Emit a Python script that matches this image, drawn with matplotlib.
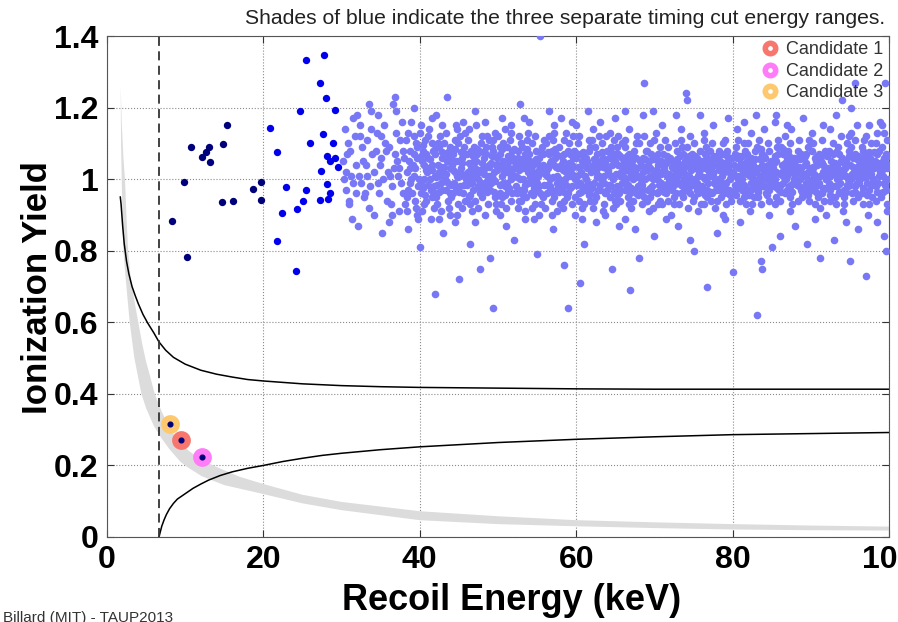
import numpy as np
import matplotlib.pyplot as plt
from matplotlib.lines import Line2D

plt.rcParams['font.family'] = ['Liberation Sans', 'DejaVu Sans']

# ---- values ----
threshold = 6.65

# lowest timing-cut energy range (navy)
navy_x = [8.3, 10.2, 9.9, 10.7, 12.1, 12.7, 13.0, 13.2, 14.8, 15.4, 14.7, 16.1, 18.7, 19.7, 19.7]
navy_y = [0.883, 0.783, 0.991, 1.090, 1.063, 1.077, 1.091, 1.049, 1.097, 1.151,
          0.937, 0.939, 0.972, 0.993, 0.942]

# middle range (blue)
blue_x = [20.9, 21.8, 22.9, 22.4, 21.8, 24.2, 24.3, 25.0, 25.5, 26.0, 24.7, 25.5, 27.2, 27.7,
          28.0, 29.1, 27.6, 28.9, 28.1, 28.5, 29.2, 29.6, 27.4, 28.1, 28.5, 28.3, 27.3]
blue_y = [1.143, 1.075, 0.977, 0.906, 0.827, 0.744, 0.916, 0.939, 0.970, 1.101, 1.191, 1.332,
          1.270, 1.346, 1.226, 1.193, 1.127, 1.101, 1.065, 1.052, 1.060, 1.033, 1.023, 0.986,
          0.961, 0.945, 0.942]

# highest range (light blue), "x,y" pairs
light_pts = """
30.2,1.05 30.5,0.97 30.8,1.10 30.4,1.14 30.9,0.93 30.6,1.02 30.3,1.00 30.7,1.07
31.1,1.08 31.4,0.99 31.7,1.12 31.3,0.89 31.8,1.04 31.5,1.17 31.2,1.01 31.9,0.96
32.2,1.01 32.6,1.09 32.9,0.95 32.4,1.15 32.7,1.05 32.1,0.87 32.5,0.99 32.3,1.12
33.3,1.11 33.6,0.98 33.1,1.04 33.8,1.19 33.5,0.92 33.9,1.07 33.2,1.01 33.7,1.14
34.2,1.02 34.5,1.13 34.8,0.96 34.4,1.08 34.1,0.90 34.7,1.18 34.9,1.04 34.6,0.99
35.3,1.00 35.6,1.10 35.1,1.06 35.8,0.94 35.4,1.15 35.9,1.02 35.2,0.85 35.7,1.08
36.1,1.09 36.4,0.98 36.7,1.03 36.9,1.13 36.3,0.93 36.6,1.21 36.8,1.07 36.2,1.01
37.2,1.01 37.5,1.11 37.8,0.96 37.1,1.05 37.4,0.91 37.7,1.16 37.9,1.08 37.6,0.99 37.3,1.03
38.1,0.93 38.3,1.02 38.5,0.97 38.7,1.08 38.9,1.00 38.2,1.11 38.4,0.95 38.6,1.05 38.8,0.99 38.0,1.06 38.5,1.13 38.3,0.91 38.8,1.03 38.6,0.96
39.2,1.01 39.4,0.94 39.6,1.09 39.8,0.98 39.1,1.04 39.3,1.12 39.5,0.92 39.7,1.06 39.9,1.00 39.0,0.96 39.5,1.10 39.2,1.07 39.7,0.90 39.4,1.03
40.1,0.99 40.3,1.05 40.5,0.93 40.7,1.11 40.9,1.02 40.2,0.96 40.4,1.08 40.6,1.00 40.8,0.94 40.0,1.13 40.6,1.04 40.3,0.91 40.8,1.07 40.1,1.15
41.2,1.03 41.4,0.97 41.6,1.10 41.8,0.92 41.1,1.06 41.3,1.00 41.5,0.95 41.7,1.08 41.9,1.01 41.0,1.12 41.4,0.89 41.6,1.04 41.8,0.98 41.2,1.14
42.1,0.95 42.3,1.04 42.5,1.09 42.7,0.99 42.9,1.06 42.2,0.93 42.4,1.01 42.6,1.12 42.8,0.97 42.0,1.07 42.5,1.02 42.7,0.91 42.3,1.10 42.9,1.15
43.2,1.00 43.4,1.07 43.6,0.94 43.8,1.03 43.1,1.10 43.3,0.97 43.5,1.05 43.7,0.92 43.9,1.09 43.0,1.02 43.6,0.99 43.4,1.13 43.8,0.96 43.2,1.06
44.1,1.04 44.3,0.96 44.5,1.11 44.7,1.01 44.9,0.93 44.2,1.08 44.4,0.99 44.6,1.05 44.8,1.14 44.0,0.95 44.5,1.02 44.7,0.90 44.3,1.07 44.9,1.10
45.2,0.98 45.4,1.06 45.6,1.01 45.8,0.94 45.1,1.12 45.3,1.03 45.5,0.96 45.7,1.09 45.9,1.00 45.0,1.05 45.4,0.92 45.6,1.07 45.8,1.13 45.2,1.02
46.1,1.02 46.3,0.95 46.5,1.08 46.7,0.99 46.9,1.05 46.2,1.11 46.4,0.93 46.6,1.03 46.8,0.97 46.0,1.07 46.5,1.00 46.3,1.14 46.7,0.91 46.9,1.09
47.2,1.05 47.4,0.98 47.6,1.02 47.8,1.10 47.1,0.94 47.3,1.07 47.5,1.00 47.7,0.96 47.9,1.12 47.0,1.03 47.4,0.92 47.6,1.08 47.8,0.99 47.2,1.15
48.1,0.97 48.3,1.03 48.5,1.09 48.7,0.93 48.9,1.01 48.2,1.06 48.4,0.99 48.6,1.12 48.8,1.04 48.0,0.95 48.5,1.07 48.3,0.90 48.7,1.00 48.9,1.11
49.2,1.01 49.4,1.08 49.6,0.95 49.8,1.04 49.1,0.99 49.3,1.11 49.5,1.02 49.7,0.93 49.9,1.06 49.0,0.97 49.6,1.13 49.4,1.00 49.8,0.91 49.2,1.09
50.1,1.04 50.3,0.96 50.5,1.01 50.7,1.10 50.9,0.98 50.2,1.07 50.4,0.93 50.6,1.05 50.8,1.02 50.0,1.12 50.5,0.95 50.3,1.09 50.7,0.99 50.9,1.14
51.2,0.99 51.4,1.05 51.6,0.94 51.8,1.08 51.1,1.02 51.3,0.97 51.5,1.11 51.7,1.00 51.9,1.06 51.0,0.92 51.4,1.03 51.6,1.13 51.8,0.96 51.2,1.09
52.1,1.03 52.3,0.98 52.5,1.06 52.7,0.94 52.9,1.10 52.2,1.01 52.4,0.96 52.6,1.08 52.8,1.00 52.0,1.05 52.5,0.92 52.7,1.12 52.3,1.04 52.9,0.97
53.2,1.00 53.4,1.07 53.6,0.95 53.8,1.02 53.1,1.09 53.3,0.97 53.5,1.04 53.7,1.11 53.9,0.99 53.0,0.94 53.6,1.06 53.4,0.91 53.8,1.13 53.2,1.03
54.1,1.05 54.3,0.99 54.5,1.02 54.7,0.93 54.9,1.08 54.2,0.96 54.4,1.10 54.6,1.01 54.8,0.97 54.0,1.07 54.5,1.04 54.3,0.92 54.7,1.12 54.9,1.00
55.2,0.98 55.4,1.03 55.6,1.09 55.8,0.95 55.1,1.01 55.3,1.06 55.5,0.93 55.7,1.04 55.9,1.11 55.0,0.99 55.4,0.96 55.6,1.02 55.8,1.07 55.2,0.90
56.1,1.02 56.3,0.96 56.5,1.07 56.7,1.00 56.9,0.94 56.2,1.10 56.4,1.03 56.6,0.98 56.8,1.05 56.0,0.92 56.5,1.12 56.3,1.01 56.7,0.97 56.9,1.08
57.2,1.04 57.4,0.97 57.6,1.01 57.8,1.09 57.1,0.95 57.3,1.06 57.5,0.99 57.7,1.03 57.9,0.93 57.0,1.11 57.4,1.07 57.6,0.91 57.8,1.00 57.2,1.13
58.1,0.99 58.3,1.05 58.5,0.94 58.7,1.02 58.9,1.08 58.2,0.97 58.4,1.11 58.6,1.00 58.8,0.95 58.0,1.04 58.5,1.07 58.3,0.92 58.7,1.13 58.9,1.01
59.2,1.03 59.4,0.98 59.6,1.06 59.8,0.95 59.1,1.10 59.3,1.01 59.5,0.93 59.7,1.08 59.9,1.00 59.0,0.96 59.4,1.04 59.6,1.12 59.8,0.90 59.2,1.07
60.1,1.01 60.3,0.94 60.5,1.07 60.7,0.98 60.9,1.04 60.2,1.10 60.4,0.96 60.6,1.02 60.8,0.92 60.0,1.06 60.5,0.99 60.3,1.12 60.7,1.05 60.9,0.97
61.2,0.97 61.4,1.03 61.6,1.08 61.8,0.94 61.1,1.01 61.3,1.06 61.5,0.99 61.7,1.11 61.9,1.02 61.0,0.93 61.4,1.05 61.6,0.96 61.8,1.09 61.2,1.00
62.1,1.04 62.3,0.99 62.5,0.95 62.7,1.07 62.9,1.01 62.2,0.92 62.4,1.09 62.6,1.03 62.8,0.97 62.0,1.11 62.5,1.02 62.3,0.94 62.7,1.05 62.9,1.12
63.2,1.00 63.4,1.06 63.6,0.93 63.8,1.03 63.1,0.97 63.3,1.10 63.5,1.01 63.7,0.96 63.9,1.08 63.0,1.04 63.6,0.99 63.4,0.91 63.8,1.12 63.2,1.05
64.1,1.02 64.3,0.95 64.5,1.09 64.7,1.00 64.9,0.94 64.2,1.06 64.4,0.98 64.6,1.04 64.8,1.11 64.0,0.97 64.5,1.01 64.3,1.13 64.7,0.92 64.9,1.07
65.2,0.98 65.4,1.04 65.6,1.01 65.8,1.10 65.1,0.93 65.3,1.07 65.5,0.96 65.7,1.02 65.9,0.99 65.0,1.05 65.4,1.12 65.6,0.94 65.8,1.06 65.2,1.09
66.1,1.03 66.3,0.97 66.5,1.06 66.7,0.93 66.9,1.02 66.2,1.09 66.4,1.00 66.6,0.95 66.8,1.07 66.0,1.01 66.5,0.98 66.3,1.11 66.7,1.04 66.9,0.96
67.2,1.00 67.4,1.08 67.6,0.96 67.8,1.03 67.1,1.05 67.3,0.94 67.5,1.02 67.7,1.10 67.9,0.98 67.0,0.92 67.6,1.06 67.4,1.01 67.8,1.12 67.2,0.97
68.1,1.05 68.3,0.99 68.5,1.02 68.7,0.95 68.9,1.08 68.2,1.01 68.4,0.93 68.6,1.06 68.8,1.00 68.0,1.10 68.5,0.97 68.3,1.04 68.7,1.12 68.9,0.94
69.2,0.97 69.4,1.03 69.6,1.07 69.8,1.00 69.1,0.94 69.3,1.05 69.5,1.10 69.7,0.98 69.9,1.02 69.0,1.08 69.4,0.95 69.6,1.01 69.8,0.92 69.2,1.04
70.1,1.01 70.3,0.96 70.5,1.04 70.7,1.09 70.9,0.99 70.2,1.06 70.4,0.93 70.6,1.02 70.8,0.97 70.0,1.11 70.5,1.07 70.3,1.00 70.7,0.94 70.9,1.05
71.2,1.04 71.4,0.98 71.6,1.01 71.8,0.94 71.1,1.07 71.3,1.02 71.5,0.96 71.7,1.09 71.9,1.00 71.0,0.93 71.4,1.11 71.6,1.05 71.8,0.99 71.2,1.03
72.1,0.99 72.3,1.05 72.5,0.95 72.7,1.02 72.9,1.08 72.2,0.97 72.4,1.03 72.6,1.10 72.8,1.00 72.0,1.06 72.5,0.93 72.3,1.01 72.7,0.96 72.9,1.04
73.2,1.02 73.4,0.96 73.6,1.07 73.8,1.00 73.1,0.93 73.3,1.04 73.5,1.09 73.7,0.98 73.9,1.05 73.0,1.01 73.6,0.95 73.4,1.11 73.8,1.03 73.2,0.99
74.1,1.00 74.3,1.06 74.5,0.98 74.7,1.03 74.9,0.94 74.2,1.09 74.4,1.01 74.6,0.96 74.8,1.07 74.0,1.04 74.5,1.12 74.3,0.92 74.7,1.00 74.9,1.05
75.2,1.03 75.4,0.97 75.6,1.01 75.8,1.08 75.1,0.95 75.3,1.05 75.5,0.99 75.7,1.02 75.9,0.93 75.0,1.10 75.4,1.06 75.6,0.96 75.8,1.04 75.2,1.00
76.1,0.98 76.3,1.04 76.5,1.07 76.7,0.95 76.9,1.01 76.2,1.03 76.4,0.93 76.6,1.09 76.8,0.99 76.0,1.05 76.5,1.00 76.3,1.11 76.7,0.97 76.9,1.06
77.2,1.01 77.4,0.96 77.6,1.04 77.8,1.00 77.1,1.08 77.3,0.94 77.5,1.02 77.7,1.06 77.9,0.97 77.0,1.03 77.6,0.99 77.4,1.10 77.8,0.92 77.2,1.05
78.1,1.04 78.3,1.00 78.5,0.95 78.7,1.07 78.9,1.02 78.2,0.97 78.4,1.05 78.6,0.99 78.8,1.10 78.0,0.94 78.5,1.03 78.3,1.08 78.7,1.01 78.9,0.96
79.2,0.99 79.4,1.05 79.6,1.02 79.8,0.94 79.1,1.03 79.3,1.08 79.5,0.97 79.7,1.00 79.9,1.06 79.0,1.11 79.4,0.96 79.6,1.04 79.8,1.01 79.2,0.93
80.1,1.02 80.3,0.97 80.5,1.06 80.7,1.00 80.9,0.94 80.2,1.04 80.4,1.09 80.6,0.98 80.8,1.03 80.0,0.96 80.5,1.01 80.3,1.07 80.7,1.11 80.9,0.99
81.2,1.00 81.4,1.04 81.6,0.96 81.8,1.07 81.1,0.98 81.3,1.02 81.5,1.10 81.7,0.93 81.9,1.05 81.0,1.01 81.4,0.95 81.6,1.08 81.8,1.03 81.2,0.97
82.1,1.05 82.3,0.99 82.5,1.02 82.7,0.95 82.9,1.08 82.2,1.01 82.4,0.97 82.6,1.04 82.8,1.00 82.0,1.10 82.5,0.93 82.3,1.06 82.7,0.98 82.9,1.03
83.2,0.97 83.4,1.03 83.6,1.06 83.8,1.00 83.1,1.09 83.3,0.95 83.5,1.01 83.7,1.04 83.9,0.98 83.0,1.02 83.6,0.93 83.4,1.11 83.8,1.07 83.2,0.99
84.1,1.01 84.3,0.96 84.5,1.04 84.7,1.08 84.9,0.99 84.2,1.06 84.4,1.02 84.6,0.94 84.8,1.03 84.0,0.98 84.5,1.10 84.3,1.00 84.7,0.97 84.9,1.05
85.2,1.03 85.4,1.00 85.6,0.95 85.8,1.07 85.1,1.01 85.3,0.98 85.5,1.05 85.7,1.09 85.9,0.97 85.0,1.04 85.4,0.93 85.6,1.02 85.8,1.11 85.2,0.99
86.1,0.98 86.3,1.04 86.5,1.01 86.7,0.96 86.9,1.06 86.2,1.09 86.4,0.99 86.6,1.03 86.8,1.00 86.0,0.94 86.5,1.07 86.3,1.02 86.7,1.12 86.9,0.97
87.2,1.02 87.4,0.97 87.6,1.05 87.8,1.00 87.1,1.08 87.3,0.95 87.5,1.03 87.7,0.99 87.9,1.06 87.0,1.01 87.6,0.93 87.4,1.10 87.8,1.04 87.2,0.98
88.1,1.00 88.3,1.06 88.5,0.98 88.7,1.03 88.9,0.95 88.2,1.02 88.4,1.08 88.6,1.00 88.8,0.97 88.0,1.05 88.5,1.11 88.3,0.94 88.7,1.07 88.9,1.01
89.2,1.04 89.4,0.99 89.6,1.02 89.8,0.94 89.1,1.06 89.3,1.01 89.5,0.97 89.7,1.09 89.9,1.03 89.0,0.96 89.4,1.07 89.6,1.00 89.8,1.11 89.2,0.98
90.1,0.97 90.3,1.03 90.5,1.06 90.7,1.00 90.9,0.95 90.2,1.08 90.4,1.01 90.6,0.98 90.8,1.04 90.0,1.02 90.5,0.93 90.3,1.10 90.7,1.05 90.9,0.99
91.2,1.01 91.4,0.96 91.6,1.04 91.8,1.08 91.1,0.99 91.3,1.05 91.5,1.02 91.7,0.94 91.9,1.00 91.0,1.07 91.4,1.11 91.6,0.97 91.8,1.03 91.2,0.92
92.1,1.03 92.3,0.99 92.5,1.01 92.7,0.95 92.9,1.07 92.2,1.02 92.4,0.97 92.6,1.05 92.8,1.10 92.0,1.00 92.5,0.94 92.3,1.08 92.7,1.03 92.9,0.98
93.2,0.98 93.4,1.04 93.6,1.07 93.8,1.01 93.1,0.95 93.3,1.02 93.5,1.09 93.7,0.99 93.9,1.05 93.0,1.03 93.6,0.96 93.4,1.00 93.8,1.12 93.2,0.93
94.1,1.02 94.3,0.97 94.5,1.05 94.7,1.00 94.9,1.08 94.2,0.95 94.4,1.03 94.6,1.10 94.8,0.98 94.0,1.06 94.5,1.01 94.3,0.93 94.7,1.04 94.9,1.12
95.2,1.00 95.4,1.06 95.6,0.98 95.8,1.03 95.1,1.09 95.3,0.96 95.5,1.02 95.7,1.07 95.9,0.99 95.0,1.04 95.6,1.11 95.4,0.94 95.8,1.01 95.2,1.13
96.1,1.04 96.3,1.00 96.5,0.96 96.7,1.08 96.9,1.02 96.2,0.99 96.4,1.06 96.6,1.03 96.8,1.11 96.0,0.95 96.5,1.09 96.3,1.01 96.7,0.93 96.9,1.05
97.2,0.99 97.4,1.05 97.6,1.02 97.8,0.95 97.1,1.07 97.3,1.03 97.5,0.97 97.7,1.10 97.9,1.00 97.0,1.12 97.4,0.93 97.6,1.06 97.8,1.04 97.2,1.01
98.1,1.03 98.3,0.98 98.5,1.07 98.7,1.01 98.9,0.96 98.2,1.05 98.4,1.10 98.6,0.99 98.8,1.04 98.0,1.00 98.5,1.13 98.3,0.94 98.7,1.08 98.9,1.02
99.2,1.01 99.4,1.06 99.6,0.97 99.8,1.03 99.1,1.09 99.3,0.99 99.5,1.04 99.7,1.11 99.9,1.00 99.0,0.95 99.6,1.07 99.4,1.13 99.8,0.93 99.2,1.05
40.45,0.975 40.85,1.025 40.15,1.065 40.65,0.955 40.35,1.095 41.05,0.985 41.55,1.025 41.35,1.055 41.75,0.965 41.95,1.085
42.25,0.985 42.65,1.035 42.05,1.005 42.85,1.075 42.45,0.965 43.15,1.035 43.55,1.075 43.95,0.985 43.35,1.015 43.75,1.055
44.25,1.025 44.65,0.975 44.05,1.055 44.85,1.005 44.45,1.085 45.05,0.965 45.45,1.045 45.85,1.015 45.25,1.075 45.65,0.985
46.25,1.045 46.65,1.015 46.05,0.985 46.85,1.065 46.45,0.955 47.15,1.015 47.55,0.975 47.95,1.045 47.35,1.085 47.75,1.025
48.25,1.015 48.65,0.965 48.05,1.075 48.85,1.035 48.45,0.985 49.05,1.045 49.45,0.965 49.85,1.025 49.25,1.065 49.65,0.995
50.25,0.985 50.65,1.035 50.05,1.065 50.85,0.955 50.45,1.085 51.05,1.035 51.45,0.975 51.85,1.015 51.25,1.065 51.65,1.005
52.25,0.965 52.65,1.025 52.05,1.085 52.85,1.045 52.45,1.005 53.05,1.055 53.45,0.985 53.85,1.035 53.25,0.955 53.65,1.085
54.25,1.035 54.65,0.975 54.05,1.005 54.85,1.055 54.45,0.955 55.05,1.045 55.45,1.075 55.85,0.985 55.25,1.025 55.65,0.955
56.25,0.985 56.65,1.045 56.05,1.015 56.85,0.965 56.45,1.075 57.05,1.005 57.45,1.035 57.85,0.965 57.25,1.085 57.65,0.985
58.25,1.025 58.65,0.985 58.05,1.065 58.85,1.035 58.45,0.965 59.05,1.045 59.45,1.015 59.85,1.075 59.25,0.975 59.65,1.035
60.25,1.035 60.65,0.965 60.05,0.985 60.85,1.075 60.45,1.015 61.05,1.065 61.45,0.975 61.85,1.025 61.25,1.045 61.65,0.955
62.25,1.055 62.65,1.005 62.05,0.975 62.85,1.035 62.45,0.955 63.05,0.985 63.45,1.035 63.85,0.965 63.25,1.075 63.65,1.045
64.25,0.985 64.65,1.055 64.05,1.025 64.85,0.965 64.45,1.075 65.05,1.015 65.45,0.975 65.85,1.035 65.25,0.955 65.65,1.065
66.25,1.025 66.65,0.985 66.05,1.045 66.85,1.005 66.45,1.065 67.05,0.975 67.45,1.035 67.85,0.955 67.25,1.065 67.65,1.005
68.25,0.965 68.65,1.035 68.05,1.005 68.85,1.055 68.45,0.985 69.05,1.025 69.45,0.975 69.85,1.055 69.25,1.005 69.65,0.965
70.25,1.025 70.65,0.985 70.05,1.055 70.85,1.015 70.45,0.965 71.05,0.985 71.45,1.045 71.85,1.015 71.25,0.965 71.65,1.065
72.25,1.035 72.65,1.005 72.05,0.975 72.85,1.055 72.45,0.985 73.05,1.045 73.45,0.985 73.85,1.015 73.25,1.065 73.65,0.965
74.25,0.975 74.65,1.025 74.05,0.995 74.85,1.045 74.45,1.065 75.05,0.985 75.45,1.035 75.85,0.965 75.25,1.065 75.65,1.015
76.25,1.005 76.65,1.055 76.05,0.975 76.85,1.025 76.45,0.955 77.05,1.045 77.45,1.015 77.85,0.985 77.25,0.965 77.65,1.065
78.25,1.025 78.65,0.975 78.05,1.065 78.85,1.045 78.45,0.985 79.05,0.975 79.45,1.035 79.85,1.005 79.25,1.065 79.65,0.955
80.25,0.985 80.65,1.035 80.05,1.015 80.85,1.065 80.45,0.955 81.05,1.045 81.45,0.985 81.85,1.015 81.25,1.065 81.65,0.975
82.25,1.035 82.65,0.985 82.05,0.955 82.85,1.055 82.45,1.015 83.05,0.985 83.45,1.055 83.85,1.025 83.25,0.965 83.65,1.085
84.25,1.035 84.65,0.985 84.05,1.065 84.85,1.015 84.45,0.955 85.05,1.025 85.45,1.065 85.85,0.985 85.25,1.045 85.65,0.975
86.25,0.965 86.65,1.045 86.05,1.015 86.85,1.025 86.45,1.085 87.05,1.045 87.45,0.985 87.85,1.015 87.25,1.065 87.65,0.965
88.25,0.985 88.65,1.055 88.05,1.025 88.85,0.965 88.45,1.035 89.05,1.015 89.45,1.045 89.85,0.985 89.25,1.065 89.65,0.955
90.25,1.035 90.65,0.965 90.05,0.995 90.85,1.065 90.45,1.015 91.05,0.985 91.45,1.045 91.85,1.015 91.25,1.065 91.65,0.975
92.25,0.975 92.65,1.035 92.05,1.065 92.85,1.015 92.45,0.955 93.05,1.045 93.45,0.985 93.85,1.025 93.25,1.075 93.65,0.965
94.25,1.045 94.65,0.985 94.05,1.015 94.85,1.065 94.45,0.965 95.05,0.985 95.45,1.035 95.85,1.055 95.25,1.015 95.65,0.965
96.25,1.025 96.65,0.975 96.05,1.065 96.85,1.005 96.45,1.045 97.05,1.035 97.45,1.075 97.85,0.985 97.25,0.955 97.65,1.015
98.25,0.985 98.65,1.045 98.05,1.075 98.85,1.025 98.45,0.965 99.05,1.025 99.45,0.985 99.85,1.065 99.25,0.965 99.65,1.045
55.4,1.40 36.8,1.23 43.5,1.23 52.8,1.21 68.7,1.27 74.0,1.24 74.2,1.22 94.0,1.22 95.1,1.20
95.7,1.27 99.5,1.27 93.2,1.18 65.0,1.17 66.3,1.19 68.5,1.18 69.8,1.19 72.8,1.18 75.8,1.18
79.4,1.17 83.0,1.18 85.6,1.18 85.4,1.16 39.2,1.20 47.0,1.19 58.0,1.17 61.5,1.19 89.0,1.17
97.5,1.15 45.5,1.16 50.5,1.17 56.5,1.19 63.0,1.16 91.5,1.15 77.5,1.15 81.5,1.16 87.5,1.14
33.5,1.21 41.5,1.17 54.0,1.16 60.0,1.15 71.0,1.15 84.0,1.14 98.8,1.16 92.5,1.14
38.9,1.16 42.1,1.18 44.6,1.15 48.4,1.16 51.7,1.15 53.3,1.17 57.1,1.15 59.5,1.16 62.2,1.14
66.8,1.14 70.2,1.13 73.4,1.14 76.4,1.13 80.6,1.14 82.4,1.13 86.9,1.15 90.1,1.13 95.9,1.15
99.1,1.15 39.8,0.89 43.9,0.90 47.1,0.88 50.2,0.90 54.6,0.89 56.9,0.90 60.8,0.89 63.7,0.90
66.2,0.89 69.3,0.91 72.1,0.90 75.6,0.91 78.8,0.90 82.2,0.91 84.7,0.90 87.3,0.91 91.9,0.90
94.1,0.91 97.3,0.90 99.7,0.91 31.0,0.94 33.0,0.96 35.0,1.12 36.5,0.90 37.0,1.19 32.0,1.18
41.9,0.68 49.4,0.64 59.0,0.64 66.9,0.69 76.7,0.70 83.1,0.62 91.2,0.78 99.6,0.80 83.6,0.77
83.8,0.75 64.6,0.75 49.0,0.78 47.7,0.75 40.0,0.81 46.4,0.82 43.0,0.85 52.0,0.83 57.0,0.86
61.0,0.82 70.0,0.84 73.0,0.87 78.0,0.85 86.0,0.84 88.0,0.87 93.0,0.83 96.0,0.86 44.5,0.88
53.5,0.89 62.5,0.88 67.5,0.86 71.5,0.89 81.0,0.88 90.5,0.89 98.5,0.88 38.5,0.86 55.0,0.79
58.5,0.76 68.0,0.78 75.0,0.80 80.0,0.74 85.0,0.81 95.0,0.77 60.5,0.71 45.0,0.72 97.0,0.73
99.3,0.84 89.5,0.82 79.0,0.89 65.5,0.87 51.0,0.87 42.5,0.89 36.0,0.88 74.5,0.83 94.5,0.88
"""
light_arr = np.array([p.split(',') for p in light_pts.split()], dtype=float)
light_x = light_arr[:, 0]
light_y = light_arr[:, 1]

# signal candidates
cand_x = [9.4, 12.1, 8.1]
cand_y = [0.271, 0.224, 0.316]
cand_labels = ['Candidate 1', 'Candidate 2', 'Candidate 3']
cand_colors = ['#f7766e', '#ff7cf8', '#fec86e']

# upper black curve
upper_x = [1.7, 1.8, 2.0, 2.2, 2.5, 2.8, 3.2, 3.6, 4.0, 4.6, 5.2, 6.0, 6.65, 7.5, 8.5, 10, 12,
           14, 16, 18, 20, 25, 30, 35, 40, 50, 60, 70, 80, 90, 100]
upper_y = [0.95, 0.93, 0.87, 0.82, 0.77, 0.735, 0.70, 0.675, 0.652, 0.622, 0.598, 0.570, 0.545,
           0.522, 0.502, 0.483, 0.466, 0.455, 0.447, 0.440, 0.436, 0.428, 0.423, 0.420, 0.418,
           0.416, 0.414, 0.413, 0.413, 0.413, 0.413]

# lower black curve
lower_x = [6.65, 6.8, 7.0, 7.3, 7.6, 8.0, 8.5, 9.0, 10, 11, 12, 13, 14.5, 16, 18, 20, 22.5, 25,
           27.5, 30, 35, 40, 45, 50, 60, 70, 80, 90, 100]
lower_y = [0.0, 0.013, 0.030, 0.048, 0.063, 0.079, 0.094, 0.106, 0.121, 0.136, 0.148, 0.159,
           0.172, 0.182, 0.192, 0.200, 0.211, 0.220, 0.228, 0.234, 0.244, 0.252, 0.258, 0.264,
           0.273, 0.280, 0.286, 0.289, 0.292]

# grey nuclear-recoil band: upper and lower edges
band_up_x = [1.75, 1.9, 2.1, 2.3, 2.5, 2.7, 3.0, 3.5, 4.0, 4.5, 5.0, 5.5, 6.1, 7.0, 8.1, 9.4,
             10.5, 12.1, 14.3, 17, 20, 25, 30, 40, 50, 60, 70, 80, 90, 100]
band_up_y = [1.26, 1.15, 1.06, 1.00, 0.89, 0.80, 0.73, 0.66, 0.60, 0.54, 0.49, 0.45, 0.40, 0.35,
             0.30, 0.262, 0.240, 0.215, 0.193, 0.168, 0.148, 0.118, 0.098, 0.072, 0.058, 0.047,
             0.041, 0.036, 0.032, 0.029]
band_lo_x = [1.75, 1.8, 1.88, 2.0, 2.1, 2.4, 2.9, 3.5, 4.4, 5.0, 6.0, 7.0, 8.0, 9.4, 10.3, 12.1,
             15, 20, 25, 30, 40, 50, 60, 70, 80, 90, 100]
band_lo_y = [1.26, 1.10, 1.00, 0.88, 0.80, 0.72, 0.60, 0.50, 0.40, 0.36, 0.31, 0.275, 0.245,
             0.21, 0.195, 0.17, 0.145, 0.12, 0.094, 0.075, 0.047, 0.036, 0.030, 0.025, 0.021,
             0.019, 0.018]

xticks = [0, 20, 40, 60, 80, 100]
yticks = [0, 0.2, 0.4, 0.6, 0.8, 1.0, 1.2, 1.4]
yticklabels = ['0', '0.2', '0.4', '0.6', '0.8', '1', '1.2', '1.4']

# ---- figure ----
fig = plt.figure(figsize=(8.98, 6.22), dpi=100)
ax = fig.add_axes([107 / 898, 85 / 622, 782 / 898, 501 / 622])

ax.fill(band_up_x + band_lo_x[::-1], band_up_y + band_lo_y[::-1],
        color='#dcdcdc', lw=0, zorder=1)
ax.plot(upper_x, upper_y, color='black', lw=1.1, zorder=2)
ax.plot(lower_x, lower_y, color='black', lw=1.1, zorder=2)
ax.axvline(threshold, color='#333333', lw=1.3, ls=(0, (5, 3)), zorder=2)

ax.scatter(light_x, light_y, s=30, color='#7878f6', linewidths=0, zorder=3)
ax.scatter(blue_x, blue_y, s=28, color='#0000ee', linewidths=0, zorder=3)
ax.scatter(navy_x, navy_y, s=28, color='#00007a', linewidths=0, zorder=3)

# candidates: coloured ring with the event dot in the middle
for cx, cy, col in zip(cand_x, cand_y, cand_colors):
    ax.plot(cx, cy, 'o', ms=8.5, mew=5, mfc='white', mec=col, zorder=4)
    ax.plot(cx, cy, 'o', ms=3.4, color='#00007a', zorder=5)

handles = [Line2D([], [], ls='', marker='o', ms=7.5, mew=4, mfc='white', mec=c)
           for c in cand_colors]
ax.legend(handles, cand_labels, loc='upper right', frameon=False, fontsize=13,
          handlelength=0.8, handletextpad=0.5, labelspacing=0.25,
          borderaxespad=0.1, borderpad=0.2, labelcolor='#333333')

ax.set_xlim(0, 100)
ax.set_ylim(0, 1.4)
ax.set_xticks(xticks)
ax.set_yticks(yticks)
ax.set_yticklabels(yticklabels)
ax.set_axisbelow(True)
ax.grid(True, ls=':', color='#8a8a8a', lw=0.8)
ax.tick_params(direction='in', top=True, right=True, length=5, width=0.8,
               labelsize=23, pad=6, colors='#333333', labelcolor='black')
for lbl in ax.get_xticklabels() + ax.get_yticklabels():
    lbl.set_fontweight('bold')
for sp in ax.spines.values():
    sp.set_color('#555555')
    sp.set_linewidth(0.8)

fig.text(512 / 898, 1 - 601 / 622, 'Recoil Energy (keV)', ha='center', va='center',
         fontsize=26, fontweight='bold')
fig.text(38 / 898, 1 - 288 / 622, 'Ionization Yield', ha='center', va='center',
         rotation=90, fontsize=25, fontweight='bold')
fig.text(885 / 898, 1 - 18 / 622,
         'Shades of blue indicate the three separate timing cut energy ranges.',
         ha='right', va='center', fontsize=15.2, color='#222222')
fig.text(3 / 898, 1 - 611 / 622, 'Billard (MIT) - TAUP2013', ha='left', va='top',
         fontsize=11, color='#333333')

fig.savefig('out.png', dpi=100)
